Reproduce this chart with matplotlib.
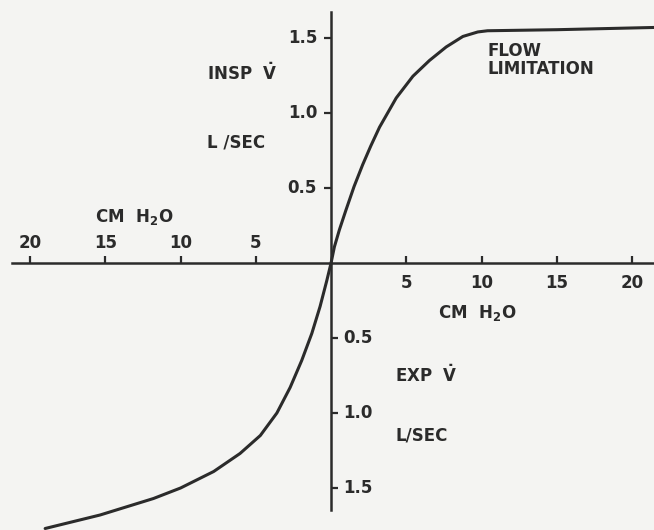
import matplotlib
matplotlib.use("Agg")
import matplotlib.pyplot as plt

# ---- data ----
# pressure (cm H2O) vs flow (L/sec); inspiration positive, expiration negative
insp_pressure = [0, 0.22, 0.55, 0.98, 1.53, 2.1, 2.64, 3.22, 4.33, 5.44, 6.54,
                 7.65, 8.76, 9.75, 10.4, 15.0, 21.5]
insp_flow     = [0, 0.107, 0.22, 0.35, 0.51, 0.655, 0.78, 0.905, 1.10, 1.245, 1.35,
                 1.44, 1.51, 1.54, 1.548, 1.555, 1.57]
exp_pressure  = [0, -0.29, -0.73, -1.28, -1.95, -2.72, -3.6, -4.7, -6.05, -7.8,
                 -10.0, -11.8, -15.35, -19.0]
exp_flow      = [0, -0.12, -0.29, -0.47, -0.65, -0.83, -1.0, -1.15, -1.27, -1.39,
                 -1.50, -1.57, -1.68, -1.77]

x_ticks_neg = [-20, -15, -10, -5]
x_ticks_pos = [5, 10, 15, 20]
y_ticks_pos = [0.5, 1.0, 1.5]
y_ticks_neg = [-0.5, -1.0, -1.5]
x_tick_labels_neg = ["20", "15", "10", "5"]
x_tick_labels_pos = ["5", "10", "15", "20"]
y_tick_labels_pos = ["0.5", "1.0", "1.5"]
y_tick_labels_neg = ["0.5", "1.0", "1.5"]

INK = "#2b2b2b"
BG = "#f4f4f2"
plt.rcParams['font.family'] = ['DejaVu Sans']
plt.rcParams['font.weight'] = 'bold'
plt.rcParams['mathtext.fontset'] = 'dejavusans'
plt.rcParams['mathtext.default'] = 'bf'

fig = plt.figure(figsize=(6.54, 5.30), dpi=100, facecolor=BG)
ax = fig.add_axes([0, 0, 1, 1], facecolor=BG)
ax.set_xlim(-22.0, 21.46)
ax.set_ylim(-1.78, 1.753)

# curve
ax.plot(exp_pressure[::-1] + insp_pressure[1:], exp_flow[::-1] + insp_flow[1:],
        color=INK, lw=2.2, solid_joinstyle='round', solid_capstyle='round')

# axes through the origin
for s in ['top', 'right']:
    ax.spines[s].set_visible(False)
ax.spines['left'].set_position(('data', 0))
ax.spines['bottom'].set_position(('data', 0))
ax.spines['left'].set_bounds(-1.647, 1.673)
ax.spines['bottom'].set_bounds(-21.2, 21.46)
for s in ['left', 'bottom']:
    ax.spines[s].set_color(INK)
    ax.spines[s].set_linewidth(1.8)

ax.set_xticks(x_ticks_neg + x_ticks_pos)
ax.set_xticklabels([])
ax.tick_params(axis='x', direction='in', length=5, width=1.6, color=INK)
ax.set_yticks(y_ticks_pos)
ax.set_yticklabels([])
ax.set_yticks(y_ticks_neg, minor=True)
ax.tick_params(axis='y', which='major', direction='out', length=5, width=1.6, color=INK)
ax.tick_params(axis='y', which='minor', direction='in', length=5, width=1.6, color=INK)

fs_num = 12
fs_txt = 12
for v, lab in zip(x_ticks_neg, x_tick_labels_neg):
    ax.text(v, 0.133, lab, ha='center', va='center', fontsize=fs_num, color=INK)
for v, lab in zip(x_ticks_pos, x_tick_labels_pos):
    ax.text(v, -0.133, lab, ha='center', va='center', fontsize=fs_num, color=INK)
for v, lab in zip(y_ticks_pos, y_tick_labels_pos):
    ax.text(-0.93, v, lab, ha='right', va='center', fontsize=fs_num, color=INK)
for v, lab in zip(y_ticks_neg, y_tick_labels_neg):
    ax.text(0.8, v, lab, ha='left', va='center', fontsize=fs_num, color=INK)

vdot = r"$\dot{\mathbf{V}}$"
h2o = r"H$_\mathbf{2}$O"
ax.text(-13.1, 0.307, "CM  " + h2o, ha='center', va='center', fontsize=fs_txt, color=INK)
ax.text(9.7, -0.333, "CM  " + h2o, ha='center', va='center', fontsize=fs_txt, color=INK)
ax.text(-8.24, 1.267, "INSP  " + vdot, ha='left', va='center', fontsize=fs_txt, color=INK)
ax.text(-8.24, 0.80, "L /SEC", ha='left', va='center', fontsize=fs_txt, color=INK)
ax.text(4.25, -0.747, "EXP  " + vdot, ha='left', va='center', fontsize=fs_txt, color=INK)
ax.text(4.25, -1.147, "L/SEC", ha='left', va='center', fontsize=fs_txt, color=INK)
ax.text(10.37, 1.353, "FLOW\nLIMITATION", ha='left', va='center', fontsize=fs_txt,
        color=INK, linespacing=1.05)

fig.savefig("out.png", dpi=100, facecolor=BG)
